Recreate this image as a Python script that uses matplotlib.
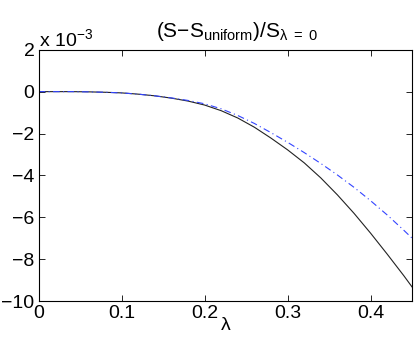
import matplotlib
matplotlib.use("Agg")
import matplotlib.pyplot as plt

plt.rcParams['font.family'] = ['Liberation Sans', 'DejaVu Sans']
plt.rcParams['mathtext.fontset'] = 'custom'
plt.rcParams['mathtext.rm'] = 'Liberation Sans'
plt.rcParams['mathtext.it'] = 'Liberation Sans'

# lambda values
lam = [0.0, 0.02, 0.04, 0.06, 0.08, 0.10, 0.12, 0.14, 0.16, 0.18, 0.20, 0.22, 0.24,
       0.26, 0.28, 0.30, 0.32, 0.34, 0.36, 0.38, 0.40, 0.42, 0.44, 0.45]
# (S - S_uniform)/S_{lambda=0}, in units of 1e-3
s_black = [0.0, 0.0, 0.0, -0.01, -0.03, -0.06, -0.12, -0.20, -0.31, -0.45, -0.64, -0.91,
           -1.26, -1.70, -2.22, -2.78, -3.40, -4.12, -4.93, -5.81, -6.76, -7.76, -8.79, -9.33]
s_blue = [0.0, 0.0, 0.0, -0.01, -0.03, -0.06, -0.12, -0.20, -0.30, -0.42, -0.58, -0.82,
          -1.14, -1.52, -1.96, -2.42, -2.91, -3.43, -3.98, -4.57, -5.21, -5.89, -6.62, -7.0]

xticks = [0, 0.1, 0.2, 0.3, 0.4]
xticklabels = ['0', '0.1', '0.2', '0.3', '0.4']
yticks = [-10, -8, -6, -4, -2, 0, 2]
yticklabels = ['\u221210', '\u22128', '\u22126', '\u22124', '\u22122', '0', '2']

fig = plt.figure(figsize=(4.15, 3.48), dpi=100)
ax = fig.add_axes([0.093, 0.135, 0.900, 0.722])

ax.plot(lam, s_black, color='#222222', lw=0.8, ls='-')
ax.plot(lam, s_blue, color='#3344ff', lw=0.8, ls=(0, (6, 3, 1, 3)))

ax.set_xlim(0, 0.45)
ax.set_ylim(-10, 2)
ax.set_xticks(xticks)
ax.set_xticklabels(xticklabels)
ax.set_yticks(yticks)
ax.set_yticklabels(yticklabels)
ax.tick_params(direction='in', top=True, right=True, labelsize=14, length=4, width=0.6,
               pad=3)
for sp in ax.spines.values():
    sp.set_linewidth(0.8)

ax.set_xlabel('\u03bb', fontsize=14, labelpad=-4)
ax.set_title(r'(S$-$S$_{\mathrm{uniform}}$)/S$_{\mathrm{\lambda\ =\ 0}}$', fontsize=15, pad=9,
             x=0.53)
ax.text(0.0, 1.0, r'x 10$^{-3}$', transform=ax.transAxes, fontsize=14,
        ha='left', va='bottom')

fig.savefig('out.png', dpi=100)
